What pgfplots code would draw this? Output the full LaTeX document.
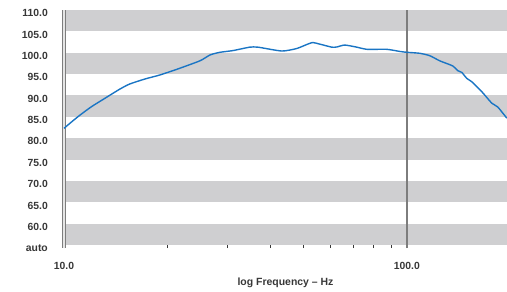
\documentclass[border=0pt]{standalone}
\usepackage{pgfplots}
\pgfplotsset{compat=1.18}
\usepackage{fontspec}
\setmainfont{Liberation Sans}
\definecolor{band}{RGB}{207,207,209}
\definecolor{curve}{RGB}{26,117,196}
\definecolor{txt}{RGB}{55,55,55}
\definecolor{vline}{RGB}{125,125,125}
\begin{document}
\begin{tikzpicture}[x=1bp,y=1bp]
\path[use as bounding box] (-64,-46) rectangle (443,245);
\begin{axis}[
  at={(0,0)}, anchor=south west,
  scale only axis, width=443bp, height=235bp,
  xmode=log, xmin=10, xmax=196, ymin=55, ymax=110,
  axis lines=left,
  axis line style={draw=none},
  clip=false,
  font=\fontsize{10.4}{12}\selectfont\bfseries,
  xtick={10,100}, xticklabels={10.0,100.0},
  minor xtick={20,30,40,50,60,70,80,90},
  ytick={55,60,65,70,75,80,85,90,95,100,105,110},
  yticklabels={auto,60.0,65.0,70.0,75.0,80.0,85.0,90.0,95.0,100.0,105.0,110.0},
  major tick length=6bp, minor tick length=6bp, tick align=center,
  xtick style={draw=txt, line width=0.7bp},
  ytick style={draw=none},
  ticklabel style={text=txt},
  yticklabel style={anchor=east, inner sep=0pt, xshift=-13bp, yshift=-3.2bp},
  xticklabel style={anchor=center, inner sep=0pt, yshift=-18bp},
  xlabel={log Frequency -- Hz},
  xlabel style={text=txt, font=\fontsize{10.5}{12}\selectfont\bfseries, anchor=center, at={(rel axis cs:0.5,0)}, yshift=-37.5bp},
]
\fill[band] (axis cs:10,105) rectangle (axis cs:196,110);
\fill[band] (axis cs:10,95) rectangle (axis cs:196,100);
\fill[band] (axis cs:10,85) rectangle (axis cs:196,90);
\fill[band] (axis cs:10,75) rectangle (axis cs:196,80);
\fill[band] (axis cs:10,65) rectangle (axis cs:196,70);
\fill[band] (axis cs:10,55) rectangle (axis cs:196,60);
\draw[vline, line width=4bp] (axis cs:10,110) -- ([yshift=-3bp]axis cs:10,55);
\draw[white!80!gray, line width=1.2bp] (axis cs:10,110) -- ([yshift=-3bp]axis cs:10,55);
\draw[vline, line width=1.8bp] (axis cs:100,110) -- ([yshift=-3bp]axis cs:100,55);
\addplot[curve, line width=1.4bp, smooth, tension=0.35] coordinates {
(10,82.3) (10.41,83.5) (11.13,85.4) (12.04,87.4) (13.02,89.1) (14.56,91.5)
(15.57,92.7) (17.22,93.85) (19.05,94.8) (21.3,96.1) (24.9,98.1) (26.7,99.5)
(28.5,100.1) (31.1,100.5) (34.8,101.3) (36.8,101.3) (43.2,100.4) (47.8,101.0)
(52.8,102.35) (55.8,102.0) (60.4,101.3) (62.5,101.35) (65.9,101.8) (71.5,101.3)
(76.5,100.8) (87.4,100.8) (95.4,100.3) (100,100.1) (109.1,99.87) (116.7,99.3)
(124.8,98.1) (136.2,96.9) (140.8,95.8) (144.6,95.4) (149.6,94.0) (154.7,93.2)
(165.4,90.9) (176.9,88.2) (184.2,87.3) (195.7,84.7)
};
\end{axis}
\end{tikzpicture}
\end{document}
